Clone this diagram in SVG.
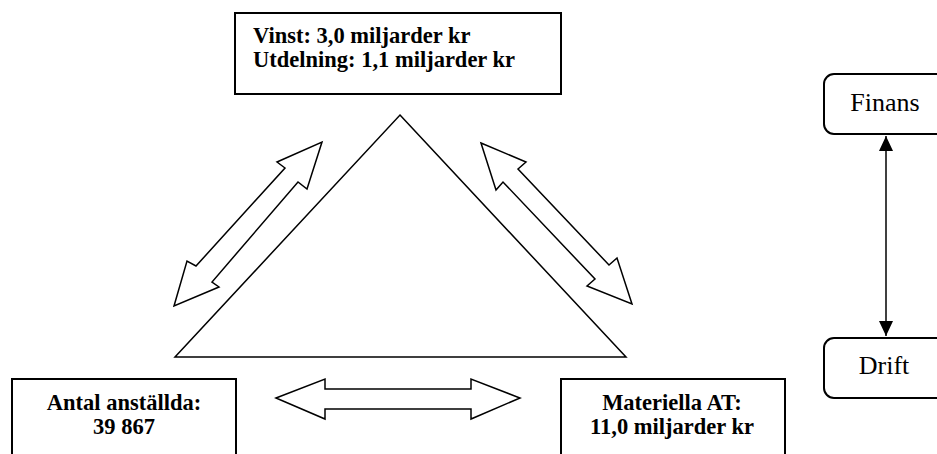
<svg xmlns="http://www.w3.org/2000/svg" width="937" height="454" viewBox="0 0 937 454">
  <style>
    .box { fill: #fff; stroke: #000; stroke-width: 2; }
    .shape { fill: #fff; stroke: #000; stroke-width: 1.5; stroke-linejoin: miter; }
    .bold { font-family: "Liberation Serif", "Times New Roman", serif; font-weight: bold; font-size: 22.5px; fill: #000; }
    .plain { font-family: "Liberation Serif", "Times New Roman", serif; font-size: 26px; fill: #000; }
    .line { stroke: #000; stroke-width: 1.5; fill: none; }
  </style>
  <defs>
    <marker id="tip" viewBox="0 0 15 14" refX="15" refY="7" markerWidth="15" markerHeight="14" markerUnits="userSpaceOnUse" orient="auto-start-reverse">
      <path d="M0,0 L15,7 L0,14 Z" fill="#000"/>
    </marker>
  </defs>

  <rect width="937" height="454" fill="#fff"/>

  <!-- central triangle -->
  <g id="triangle">
    <polygon class="shape" points="400,115 626,357 175,357"/>
  </g>

  <!-- profit box -->
  <g id="vinst">
    <rect class="box" x="235" y="13" width="326" height="81"/>
    <text class="bold" x="253" y="43">Vinst: 3,0 miljarder kr</text>
    <text class="bold" x="253" y="67">Utdelning: 1,1 miljarder kr</text>
  </g>

  <!-- employees box -->
  <g id="anstallda">
    <rect class="box" x="12" y="379" width="224" height="90"/>
    <text class="bold" x="124" y="410" text-anchor="middle">Antal anställda:</text>
    <text class="bold" x="124" y="434" text-anchor="middle">39 867</text>
  </g>

  <!-- fixed assets box -->
  <g id="materiella">
    <rect class="box" x="561" y="379" width="224" height="90"/>
    <text class="bold" x="672" y="410" text-anchor="middle">Materiella AT:</text>
    <text class="bold" x="672" y="434" text-anchor="middle">11,0 miljarder kr</text>
  </g>

  <!-- finance / operations boxes -->
  <g id="finans">
    <rect class="box" x="824" y="74" width="130" height="60" rx="10" ry="10"/>
    <text class="plain" x="885" y="111" text-anchor="middle">Finans</text>
  </g>
  <g id="drift">
    <rect class="box" x="824" y="338" width="130" height="60" rx="10" ry="10"/>
    <text class="plain" x="884" y="374" text-anchor="middle">Drift</text>
  </g>

  <!-- connectors -->
  <g id="connectors">
    <polygon class="shape" points="174,306 187,261 196,266 285,168 277,162 322,142 307,189 298,182 212,282 219,287"/>
    <polygon class="shape" points="481,143 526,162 518,169 609,265 617,258 632,304 587,286 595,279 503,182 496,190"/>
    <polygon class="shape" points="276,398 325,379 325,389 471,389 471,379 520,398 471,419 471,409 325,409 325,419"/>
    <line class="line" x1="886" y1="136" x2="886" y2="336" marker-start="url(#tip)" marker-end="url(#tip)"/>
  </g>
</svg>
